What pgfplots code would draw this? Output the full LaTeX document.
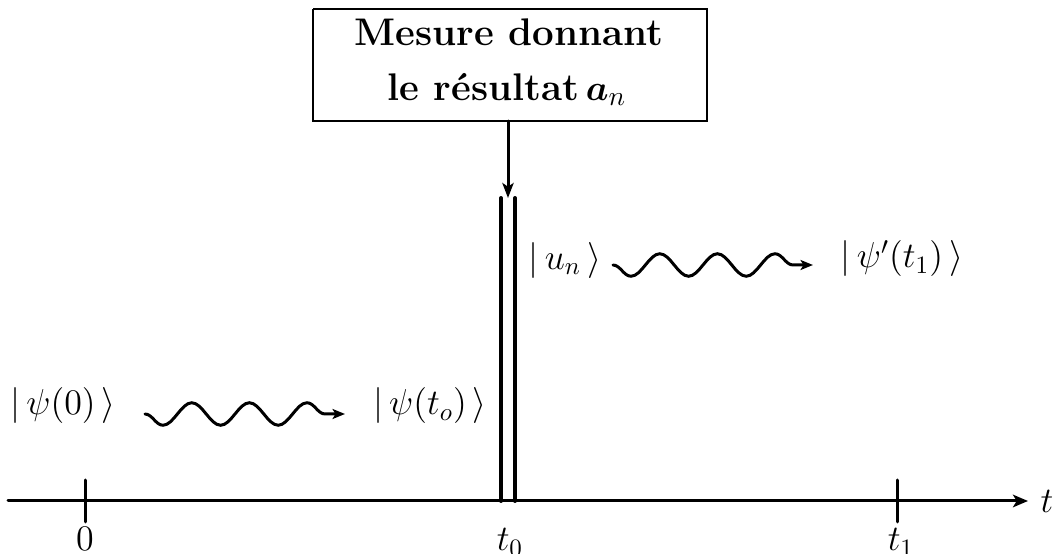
\documentclass[border=0pt]{standalone}
\usepackage{pgfplots}
\pgfplotsset{compat=1.18}
\usepackage{bm}
\usetikzlibrary{arrows.meta,decorations.pathmorphing}
\begin{document}
\begin{tikzpicture}
\begin{axis}[
  scale only axis, width=421.2pt, height=221.6pt,
  xmin=0, xmax=1053, ymin=0, ymax=554, y dir=reverse,
  axis lines=none, clip=false,
  every axis plot/.append style={black, no markers, line cap=round},
]
% time axis
\addplot[line width=1.2pt, -{Stealth[length=6pt,width=5pt,inset=1.5pt]}] coordinates {(8,501) (1028,501)};
% ticks
\addplot[line width=1.2pt] coordinates {(85,480) (85,522)};
\addplot[line width=1.2pt] coordinates {(897,480) (897,522)};
% double measurement lines
\addplot[line width=1.6pt] coordinates {(501,501) (501,198)};
\addplot[line width=1.6pt] coordinates {(515,501) (515,198)};
% box
\addplot[line width=1.1pt, line cap=butt] coordinates {(313,9) (707,9) (707,121) (313,121) (313,9)};
% arrow from box
\addplot[line width=1.2pt, -{Stealth[length=6pt,width=4.5pt,inset=1.5pt]}] coordinates {(508,121) (508,198)};
% wavy evolutions
\addplot[line width=1.2pt, decorate, decoration={snake, amplitude=4.5pt, segment length=23.04pt, mirror, post length=6pt},
  -{Stealth[length=5pt,width=4pt,inset=1.2pt]}] coordinates {(145,414) (345,414)};
\addplot[line width=1.2pt, decorate, decoration={snake, amplitude=4.5pt, segment length=23.04pt, mirror, post length=6pt},
  -{Stealth[length=5pt,width=4pt,inset=1.2pt]}] coordinates {(613,265) (813,265)};
% texts
\node[font=\fontsize{15.4}{18}\selectfont\bfseries, anchor=base, inner sep=0pt] at (axis cs:509,45) {Mesure donnant};
\node[font=\fontsize{15.4}{18}\selectfont\bfseries, anchor=base, inner sep=0pt] at (axis cs:507,100) {le résultat\,$\bm{a}_n$};
\node[font=\Large, inner sep=0pt] at (axis cs:63,406) {$|\,\psi(0)\,\rangle$};
\node[font=\Large, inner sep=0pt] at (axis cs:430,406) {$|\,\psi(t_o)\,\rangle$};
\node[font=\Large, inner sep=0pt] at (axis cs:565,260) {$|\,u_n\,\rangle$};
\node[font=\Large, inner sep=0pt] at (axis cs:902,259) {$|\,\psi'(t_1)\,\rangle$};
\node[font=\Large, anchor=base, inner sep=0pt] at (axis cs:85,551) {$0$};
\node[font=\Large, anchor=base, inner sep=0pt] at (axis cs:510,551) {$t_0$};
\node[font=\Large, anchor=base, inner sep=0pt] at (axis cs:901,551) {$t_1$};
\node[font=\Large, anchor=base, inner sep=0pt] at (axis cs:1047,513) {$t$};
\end{axis}
\pgfresetboundingbox
\path (current axis.south west) rectangle (current axis.north east);
\end{tikzpicture}
\end{document}
